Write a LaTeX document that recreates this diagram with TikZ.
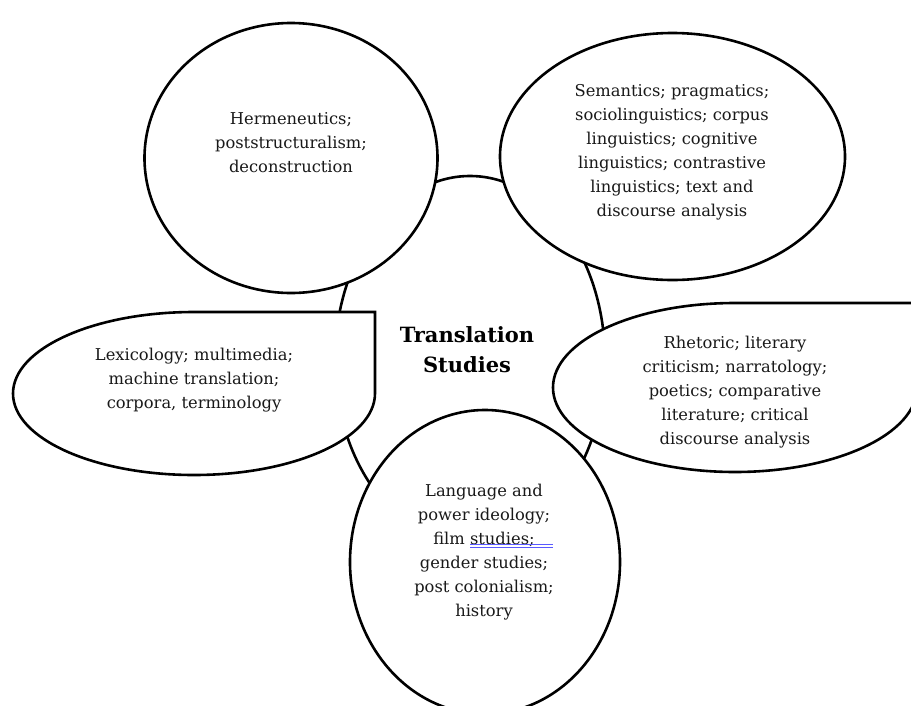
\documentclass[tikz,border=0pt]{standalone}
\usepackage{fontspec}
\setmainfont{DejaVu Serif}
\begin{document}
\begin{tikzpicture}[x=1pt,y=-1pt,
  blob/.style={draw=black,line width=2.6pt,fill=white},
  topic/.style={align=center,font=\fontsize{16.3}{24}\selectfont,text=black!90},
  title/.style={align=center,font=\fontsize{21}{30}\selectfont\bfseries}]

\useasboundingbox (0,0) rectangle (911,705);

% centre
\draw[blob] (470,360) ellipse [x radius=135,y radius=184];

% fields around it
\draw[blob] (291,158) ellipse [x radius=146.5,y radius=135];
\draw[blob] (672.5,156.5) ellipse [x radius=172.5,y radius=123.5];
\draw[blob] (194,312) -- (375,312) -- (375,393.5)
  arc[start angle=0,end angle=270,x radius=181,y radius=81.5] -- cycle;
\draw[blob] (735,303) -- (917,303) -- (917,387.5)
  arc[start angle=0,end angle=270,x radius=182,y radius=84.5] -- cycle;
\draw[blob] (485,562) ellipse [x radius=135,y radius=152];

\node[title] (ts) at (467,350) {Translation\\Studies};

\node[topic] (herm) at (291,143) {Hermeneutics;\\poststructuralism;\\deconstruction};
\node[topic] (sem) at (672,152) {Semantics; pragmatics;\\sociolinguistics; corpus\\linguistics; cognitive\\linguistics; contrastive\\linguistics; text and\\discourse analysis};
\node[topic] (lex) at (194,380) {Lexicology; multimedia;\\machine translation;\\corpora, terminology};
\node[topic] (rhet) at (735,392) {Rhetoric; literary\\criticism; narratology;\\poetics; comparative\\literature; critical\\discourse analysis};
\node[topic] (lang) at (484,552) {Language and\\power ideology;\\film studies;\\gender studies;\\post colonialism;\\history};

% grammar mark under studies;
\draw[blue!65,line width=0.9pt] (470,544) -- (553,544);
\draw[blue!65,line width=0.9pt] (470,547.5) -- (553,547.5);

\end{tikzpicture}
\end{document}
